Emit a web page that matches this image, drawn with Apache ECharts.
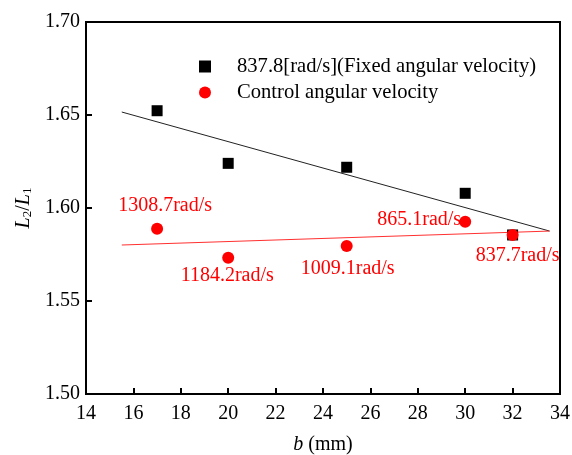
<!DOCTYPE html>
<html lang="en">
<head>
    <meta charset="UTF-8">
    <title>L2/L1 vs b</title>
    <style>
        html, body { margin: 0; padding: 0; background: #fff; }
        #chart { width: 572px; height: 455px; }
    </style>
</head>
<body>
<div id="chart"></div>
<script src="https://cdn.jsdelivr.net/npm/echarts@6/dist/echarts.min.js"></script>
<script>
    // data
    let bValues = [17, 20, 25, 30, 32];
    let fixedRatio = [1.6523, 1.6240, 1.6219, 1.6079, 1.5855];
    let controlRatio = [1.5889, 1.5733, 1.5796, 1.5926, 1.5855];
    let controlSpeeds = ['1308.7rad/s', '1184.2rad/s', '1009.1rad/s', '865.1rad/s', '837.7rad/s'];
    let fixedFitB = [15.51, 33.56];
    let fixedFitRatio = [1.6516, 1.5876];
    let controlFitB = [15.51, 33.56];
    let controlFitRatio = [1.5801, 1.5876];
    let xTicks = [14, 16, 18, 20, 22, 24, 26, 28, 30, 32, 34];
    let yTicks = [1.50, 1.55, 1.60, 1.65, 1.70];

    // label placement (px offsets from the point)
    let labelOffsets = [[8, -23], [-1, 18], [1, 23], [-46, -2], [5, 21]];

    let font = 'Liberation Serif';
    let dom = document.getElementById('chart');
    let myChart = echarts.init(dom, null, {renderer: 'canvas'});

    function pairs(xs, ys) {
        return xs.map(function (x, i) { return [x, ys[i]]; });
    }

    let controlData = bValues.map(function (b, i) {
        return {
            value: [b, controlRatio[i]],
            label: {
                show: true,
                position: 'inside',
                offset: labelOffsets[i],
                formatter: controlSpeeds[i],
                color: '#ff0000',
                fontFamily: font,
                fontSize: 20
            }
        };
    });

    let axisCommon = {
        axisLine: {show: true, onZero: false, lineStyle: {color: '#000', width: 2}},
        axisTick: {show: true, inside: true, length: 6, lineStyle: {color: '#000', width: 2}},
        axisLabel: {color: '#000', fontFamily: font, fontSize: 20},
        splitLine: {show: false}
    };

    myChart.setOption({
        animation: false,
        backgroundColor: '#fff',
        textStyle: {fontFamily: font},
        grid: {left: 86, right: 12, top: 22, bottom: 61,
            outerBoundsMode: 'none', containLabel: false,
            show: true, borderColor: '#000', borderWidth: 2},
        legend: {
            orient: 'vertical',
            left: 199,
            top: 56,
            padding: 0,
            itemGap: 5,
            itemWidth: 12,
            itemHeight: 12,
            textStyle: {fontFamily: font, fontSize: 20.6, color: '#000', lineHeight: 21,
                padding: [0, 0, 0, 21]},
            data: [
                {name: '837.8[rad/s](Fixed angular velocity)', icon: 'rect'},
                {name: 'Control angular velocity', icon: 'circle'}
            ]
        },
        xAxis: [Object.assign({}, axisCommon, {
            type: 'value',
            min: xTicks[0],
            max: xTicks[xTicks.length - 1],
            interval: 2,
            name: '{i|b} (mm)',
            nameLocation: 'middle',
            nameGap: 41,
            nameTextStyle: {fontFamily: font, fontSize: 20, color: '#000',
                rich: {i: {fontStyle: 'italic', fontFamily: font, fontSize: 20}}},
            axisLabel: Object.assign({}, axisCommon.axisLabel, {margin: 10})
        })],
        yAxis: [Object.assign({}, axisCommon, {
            type: 'value',
            min: yTicks[0],
            max: yTicks[yTicks.length - 1],
            interval: 0.05,
            name: '{i|L}{s|2}/{i|L}{s|1}',
            nameLocation: 'middle',
            nameGap: 45,
            nameTextStyle: {fontFamily: font, fontSize: 20, color: '#000', lineHeight: 20,
                rich: {
                    i: {fontStyle: 'italic', fontFamily: font, fontSize: 20, lineHeight: 20},
                    s: {fontFamily: font, fontSize: 13, lineHeight: 8, verticalAlign: 'bottom'}
                }},
            axisLabel: Object.assign({}, axisCommon.axisLabel, {
                margin: 6,
                formatter: function (v) { return v.toFixed(2); }
            })
        })],
        series: [
            {
                name: 'fixedFit',
                type: 'line',
                data: pairs(fixedFitB, fixedFitRatio),
                symbol: 'none',
                lineStyle: {color: '#222', width: 1},
                z: 1
            },
            {
                name: 'controlFit',
                type: 'line',
                data: pairs(controlFitB, controlFitRatio),
                symbol: 'none',
                lineStyle: {color: '#ff3030', width: 1},
                z: 1
            },
            {
                name: '837.8[rad/s](Fixed angular velocity)',
                type: 'scatter',
                symbol: 'rect',
                symbolSize: 11,
                itemStyle: {color: '#000', opacity: 1},
                data: pairs(bValues, fixedRatio),
                z: 3
            },
            {
                name: 'Control angular velocity',
                type: 'scatter',
                symbol: 'circle',
                symbolSize: 12,
                itemStyle: {color: '#ff0000', opacity: 1},
                data: controlData,
                z: 4
            }
        ]
    });
</script>
</body>
</html>
